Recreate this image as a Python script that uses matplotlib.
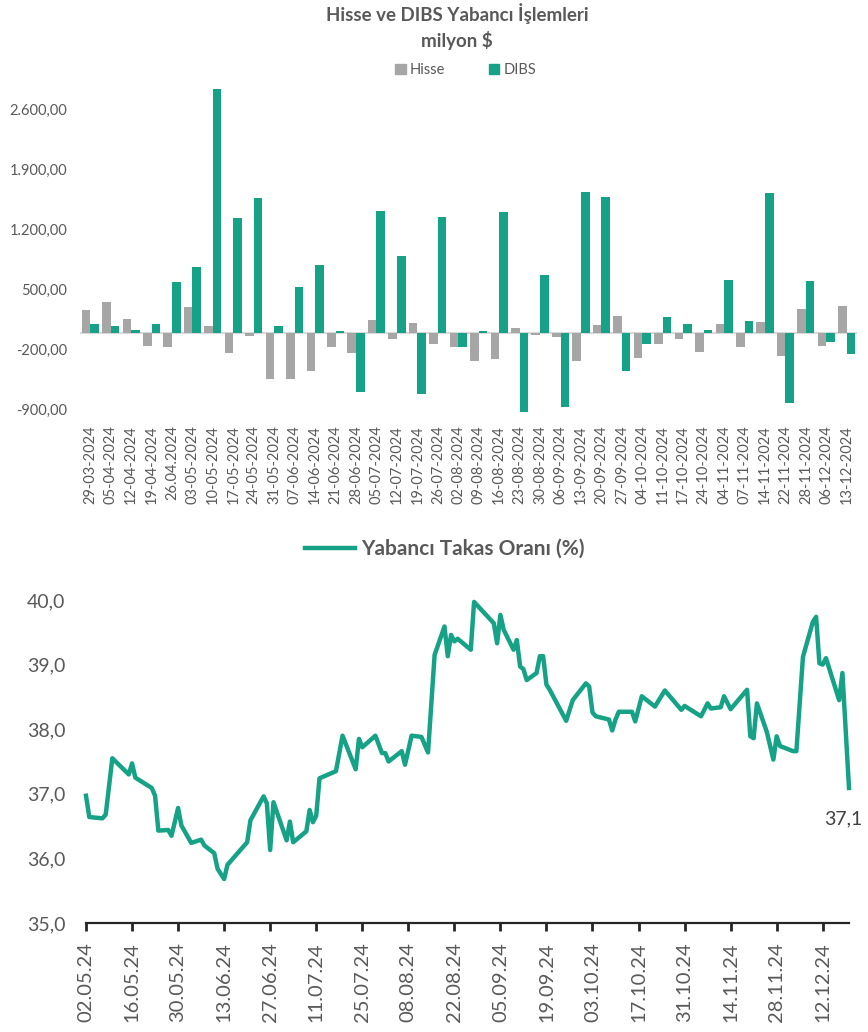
import numpy as np
import pandas as pd
import matplotlib
matplotlib.use("Agg")
import matplotlib.pyplot as plt
import matplotlib.dates as mdates
from matplotlib.patches import Patch
from matplotlib.lines import Line2D
from matplotlib.ticker import FuncFormatter

plt.rcParams['font.family'] = ['Lato', 'DejaVu Sans']

TEAL = "#15A286"
GREY = "#A6A6A6"
TXT = "#595959"

# ---- üst grafik: haftalık yabancı işlemleri (milyon $) ----
weeks = ["29-03-2024", "05-04-2024", "12-04-2024", "19-04-2024", "26.04.2024",
         "03-05-2024", "10-05-2024", "17-05-2024", "24-05-2024", "31-05-2024",
         "07-06-2024", "14-06-2024", "21-06-2024", "28-06-2024", "05-07-2024",
         "12-07-2024", "19-07-2024", "26-07-2024", "02-08-2024", "09-08-2024",
         "16-08-2024", "23-08-2024", "30-08-2024", "06-09-2024", "13-09-2024",
         "20-09-2024", "27-09-2024", "04-10-2024", "11-10-2024", "17-10-2024",
         "24-10-2024", "04-11-2024", "07-11-2024", "14-11-2024", "22-11-2024",
         "28-11-2024", "06-12-2024", "13-12-2024"]
hisse = [260, 358, 156, -156, -163, 303, 74, -233, -39, -537,
         -545, -443, -163, -233, 148, -70, 117, -132, -171, -327,
         -307, 54, -31, -54, -327, 86, 198, -296, -128, -78,
         -222, 105, -171, 128, -276, 272, -159, 315]
dibs = [105, 74, 31, 105, 595, 762, 2843, 1334, 1572, 82,
        533, 794, 23, -692, 1420, 899, -716, 1354, -171, 16,
        1408, -922, 677, -867, 1645, 1583, -451, -128, 187, 105,
        31, 615, 136, 1626, -825, 603, -109, -245]

# ---- alt grafik: yabancı takas oranı (%) ----
takas_dates = [
    "2024-05-02", "2024-05-03", "2024-05-07", "2024-05-08", "2024-05-10",
    "2024-05-15", "2024-05-16", "2024-05-17", "2024-05-22", "2024-05-23",
    "2024-05-24", "2024-05-27", "2024-05-28", "2024-05-30", "2024-05-31",
    "2024-06-03", "2024-06-06", "2024-06-07", "2024-06-10", "2024-06-11",
    "2024-06-13", "2024-06-14", "2024-06-20", "2024-06-21", "2024-06-25",
    "2024-06-26", "2024-06-27", "2024-06-28", "2024-07-02", "2024-07-03",
    "2024-07-04", "2024-07-08", "2024-07-09", "2024-07-10", "2024-07-11",
    "2024-07-12", "2024-07-17", "2024-07-19", "2024-07-23", "2024-07-24",
    "2024-07-25", "2024-07-29", "2024-07-31", "2024-08-01", "2024-08-02",
    "2024-08-06", "2024-08-07", "2024-08-09", "2024-08-12", "2024-08-14",
    "2024-08-16", "2024-08-19", "2024-08-20", "2024-08-21", "2024-08-22",
    "2024-08-23", "2024-08-27", "2024-08-28", "2024-09-03", "2024-09-04",
    "2024-09-05", "2024-09-06", "2024-09-09", "2024-09-10", "2024-09-11",
    "2024-09-12", "2024-09-13", "2024-09-16", "2024-09-17", "2024-09-18",
    "2024-09-19", "2024-09-20", "2024-09-25", "2024-09-27", "2024-10-01",
    "2024-10-02", "2024-10-03", "2024-10-04", "2024-10-08", "2024-10-09",
    "2024-10-10", "2024-10-11", "2024-10-15", "2024-10-16", "2024-10-18",
    "2024-10-22", "2024-10-25", "2024-10-30", "2024-10-31", "2024-11-05",
    "2024-11-07", "2024-11-08", "2024-11-11", "2024-11-12", "2024-11-14",
    "2024-11-19", "2024-11-20", "2024-11-21", "2024-11-22", "2024-11-25",
    "2024-11-27", "2024-11-28", "2024-11-29", "2024-12-03", "2024-12-04",
    "2024-12-06", "2024-12-09", "2024-12-10", "2024-12-11", "2024-12-12",
    "2024-12-13", "2024-12-17", "2024-12-18", "2024-12-20"]
takas = [
    36.97, 36.64, 36.62, 36.68, 37.55,
    37.30, 37.47, 37.25, 37.09, 36.97,
    36.43, 36.44, 36.35, 36.78, 36.51,
    36.24, 36.29, 36.20, 36.08, 35.84,
    35.68, 35.90, 36.25, 36.59, 36.96,
    36.85, 36.13, 36.87, 36.28, 36.57,
    36.25, 36.42, 36.75, 36.56, 36.66,
    37.24, 37.35, 37.90, 37.38, 37.85,
    37.72, 37.90, 37.63, 37.63, 37.50,
    37.66, 37.45, 37.90, 37.88, 37.64,
    39.15, 39.59, 39.13, 39.46, 39.36,
    39.40, 39.23, 39.97, 39.64, 39.33,
    39.77, 39.54, 39.23, 39.38, 38.97,
    38.93, 38.76, 38.87, 39.13, 39.13,
    38.69, 38.61, 38.13, 38.45, 38.71,
    38.66, 38.26, 38.20, 38.15, 37.98,
    38.15, 38.27, 38.27, 38.12, 38.51,
    38.35, 38.60, 38.30, 38.36, 38.20,
    38.40, 38.32, 38.34, 38.51, 38.31,
    38.61, 37.89, 37.86, 38.40, 37.96,
    37.53, 37.89, 37.74, 37.66, 37.66,
    39.12, 39.66, 39.74, 39.02, 39.00,
    39.10, 38.45, 38.87, 37.09]


def tr_fmt(v, decimals):
    # Türkçe sayı biçimi: binlik nokta, ondalık virgül
    s = f"{v:,.{decimals}f}"
    return s.replace(",", "X").replace(".", ",").replace("X", ".")


fig = plt.figure(figsize=(8.68, 10.32), dpi=100)
W, H = 868, 1032

# ==========================================
# üst panel: Hisse ve DIBS
# ==========================================
ax1 = fig.add_axes([80 / W, 1 - 414 / H, 777 / W, 330 / H])
x = np.arange(len(weeks))
bw = 0.42
ax1.bar(x - bw / 2, hisse, width=bw, color=GREY, zorder=2)
ax1.bar(x + bw / 2, dibs, width=bw, color=TEAL, zorder=2)
ax1.axhline(0, color="#D9D9D9", linewidth=1.5, zorder=1)

ax1.set_xlim(-0.5, len(weeks) - 0.5)
ax1.set_ylim(-950, 2900)
ax1.set_yticks([-900, -200, 500, 1200, 1900, 2600])
ax1.yaxis.set_major_formatter(FuncFormatter(lambda v, p: tr_fmt(v, 2)))
ax1.set_xticks(x)
ax1.set_xticklabels(weeks, rotation=90)
ax1.tick_params(axis="y", length=0, pad=9, labelsize=10.5, labelcolor=TXT)
ax1.tick_params(axis="x", length=0, pad=8, labelsize=10.5, labelcolor=TXT)
for s in ax1.spines.values():
    s.set_visible(False)

fig.text(457 / W, 1 - 14 / H, "Hisse ve DIBS Yabancı İşlemleri", ha="center", va="center",
         fontsize=13.5, fontweight="bold", color=TXT)
fig.text(457 / W, 1 - 40 / H, "milyon $", ha="center", va="center",
         fontsize=13.5, fontweight="bold", color=TXT)
fig.legend(handles=[Patch(color=GREY, label="Hisse"), Patch(color=TEAL, label="DIBS")],
           loc="center", bbox_to_anchor=(466 / W, 1 - 70 / H), ncol=2, frameon=False,
           fontsize=10.5, labelcolor=TXT, handlelength=0.7, handleheight=0.7,
           handletextpad=0.3, columnspacing=3.0)

# ==========================================
# alt panel: Yabancı Takas Oranı
# ==========================================
ax2 = fig.add_axes([86 / W, 1 - 923 / H, 763 / W, 323 / H])
dts = pd.to_datetime(takas_dates)
ax2.plot(dts, takas, color=TEAL, linewidth=3.2, solid_joinstyle="round", clip_on=False)

ax2.set_xlim(dts[0], dts[-1])
ax2.set_ylim(35, 40)
ax2.set_yticks(np.arange(35, 40.5, 1))
ax2.yaxis.set_major_formatter(FuncFormatter(lambda v, p: tr_fmt(v, 1)))
ticks = pd.date_range("2024-05-02", "2024-12-20", freq="14D")
ax2.set_xticks(ticks)
ax2.xaxis.set_major_formatter(mdates.DateFormatter("%d.%m.%y"))
plt.setp(ax2.get_xticklabels(), rotation=90)
ax2.tick_params(axis="y", length=0, pad=15, labelsize=14, labelcolor=TXT)
ax2.tick_params(axis="x", length=6, width=2, color="#262626", pad=8,
                labelsize=14.5, labelcolor=TXT)
for side in ["top", "right", "left"]:
    ax2.spines[side].set_visible(False)
ax2.spines["bottom"].set_color("#262626")
ax2.spines["bottom"].set_linewidth(1.6)

# son değer etiketi
ax2.annotate(tr_fmt(takas[-1], 1), xy=(dts[-1], takas[-1]), xytext=(-4, -22),
             textcoords="offset points", ha="center", va="center",
             fontsize=14, color="#404040", annotation_clip=False)

fig.legend(handles=[Line2D([0], [0], color=TEAL, linewidth=3.2,
                           label="Yabancı Takas Oranı (%)")],
           loc="center", bbox_to_anchor=(445 / W, 1 - 549 / H), frameon=False,
           prop={"size": 15, "weight": "bold"}, labelcolor=TXT,
           handlelength=2.4, handletextpad=0.3)

plt.savefig("out.png", dpi=100)
